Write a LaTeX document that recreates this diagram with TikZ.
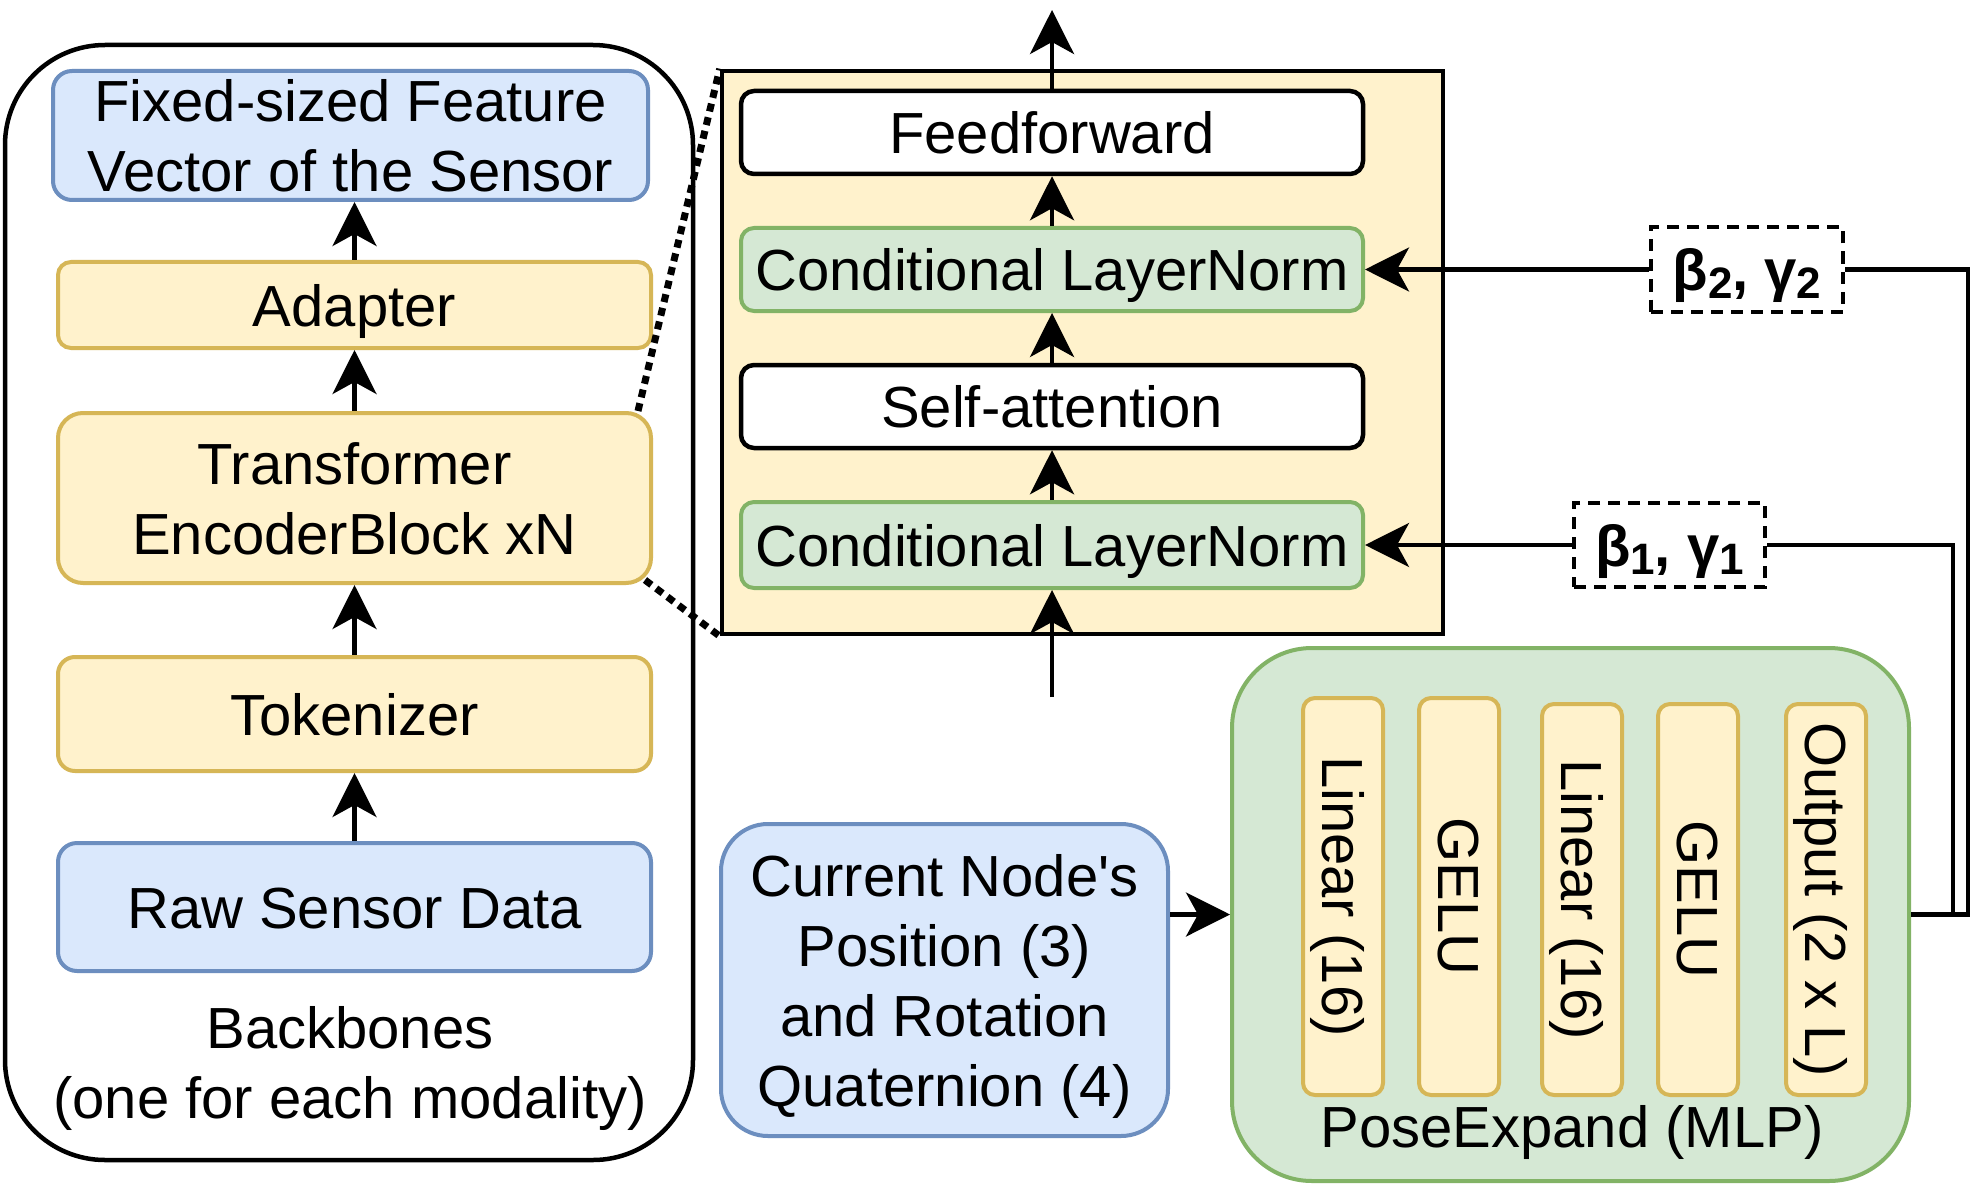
\documentclass[tikz,border=0pt]{standalone}
\usepackage{fontspec}
\setmainfont{Liberation Sans}
\usetikzlibrary{arrows.meta}
\definecolor{bfill}{HTML}{DAE8FC}
\definecolor{bdraw}{HTML}{6C8EBF}
\definecolor{yfill}{HTML}{FFF2CC}
\definecolor{ydraw}{HTML}{D6B656}
\definecolor{gfill}{HTML}{D5E8D4}
\definecolor{gdraw}{HTML}{82B366}
\newcommand\fsz{\fontsize{58}{70}\selectfont}
\newcommand\sbs[1]{\raisebox{-8pt}{\fontsize{44}{44}\selectfont #1}}
\begin{document}
\begin{tikzpicture}[x=1pt,y=-1pt,
  every node/.style={inner sep=0pt, font=\fsz, align=center, text height=42pt, text depth=0pt},
  twol/.style={text height=112pt},
  fourl/.style={text height=252pt},
  rbox/.style={draw, line width=4pt, rounded corners=#1},
  rbox/.default=13,
  bluebox/.style={rbox={#1}, fill=bfill, draw=bdraw},
  bluebox/.default=19,
  yelbox/.style={rbox={#1}, fill=yfill, draw=ydraw},
  yelbox/.default=13,
  grnbox/.style={rbox={#1}, fill=gfill, draw=gdraw},
  grnbox/.default=13,
  whtbox/.style={rbox={#1}, fill=white, draw=black, line width=4.5pt},
  whtbox/.default=13,
  dbox/.style={draw=black, fill=white, line width=4pt, dash pattern=on 12pt off 8pt, font=\fsz\bfseries},
  arr/.style={line width=4.2pt, -{Stealth[length=44pt,width=44pt,inset=12pt]}},
  ln/.style={line width=4.2pt},
  dotline/.style={line width=7pt, dash pattern=on 8pt off 6pt},
]
\useasboundingbox (0,0) rectangle (1985,1190);
\fill[white] (0,0) rectangle (1985,1190);

% Backbones
\node[draw=black, line width=4.5pt, rounded corners=100pt, minimum width=688pt, minimum height=1115pt] (bb) at (349,602.5) {};
\node[bluebox=19, twol, minimum width=595pt, minimum height=129pt] (fix) at (350.5,135.5) {Fixed-sized Feature\\Vector of the Sensor};
\node[yelbox=13, minimum width=593pt, minimum height=86pt] (ada) at (354.5,305) {Adapter};
\node[yelbox=25, twol, minimum width=593pt, minimum height=170pt] (tr) at (354.5,498) {Transformer\\EncoderBlock xN};
\node[yelbox=17, minimum width=593pt, minimum height=114pt] (tok) at (354.5,714) {Tokenizer};
\node[bluebox=19, minimum width=593pt, minimum height=128pt] (raw) at (354.5,907) {Raw Sensor Data};
\node[twol] (bblab) at (350,1062) {Backbones\\(one for each modality)};

\draw[arr] (raw) -- (tok);
\draw[arr] (tok) -- (tr);
\draw[arr] (tr) -- (ada);
\draw[arr] (ada.north) -- (ada.north |- fix.south);

% Transformer block
\node[draw=black, fill=yfill, line width=4.5pt, minimum width=721pt, minimum height=563pt] (blk) at (1082.5,352.5) {};
\node[whtbox=13, minimum width=622pt, minimum height=83pt] (ff) at (1052,132.5) {Feedforward};
\node[grnbox=13, minimum width=622pt, minimum height=83pt] (cln2) at (1052,269.5) {Conditional LayerNorm};
\node[whtbox=13, minimum width=622pt, minimum height=83pt] (sa) at (1052,406.5) {Self-attention};
\node[grnbox=13, minimum width=622pt, minimum height=86pt] (cln1) at (1052,545) {Conditional LayerNorm};
\coordinate (topout) at (1052,10);
\coordinate (inb) at (1052,697);

\draw[arr] (inb) -- (cln1);
\draw[arr] (cln1) -- (sa);
\draw[arr] (sa) -- (cln2);
\draw[arr] (cln2) -- (ff);
\draw[arr] (ff) -- (topout);

% dotted zoom lines
\draw[dotline] ([xshift=-15pt]tr.north east) -- (blk.north west);
\draw[dotline] ([xshift=-8pt,yshift=5pt]tr.south east) -- (blk.south west);

% beta/gamma boxes
\node[dbox, minimum width=192pt, minimum height=84pt] (b2) at (1747,269.5) {β\sbs{2}, γ\sbs{2}};
\node[dbox, minimum width=191pt, minimum height=84pt] (b1) at (1669.5,545) {β\sbs{1}, γ\sbs{1}};
\draw[arr] (b2) -- (cln2);
\draw[arr] (b1) -- (cln1);

% Current node input
\node[bluebox=47, fourl, minimum width=447pt, minimum height=312pt] (cur) at (944.5,980) {Current Node\textquotesingle s\\Position (3)\\and Rotation\\Quaternion (4)};

% MLP
\node[grnbox=80, minimum width=677pt, minimum height=533pt] (mlp) at (1570.5,914.5) {};
\node[yelbox=12, rotate=-90, minimum width=397pt, minimum height=80pt] (l1) at (1343,896.5) {Linear (16)};
\node[yelbox=12, rotate=-90, minimum width=397pt, minimum height=80pt] (g1) at (1459,896.5) {GELU};
\node[yelbox=12, rotate=-90, minimum width=391pt, minimum height=80pt] (l2) at (1582,899.5) {Linear (16)};
\node[yelbox=12, rotate=-90, minimum width=391pt, minimum height=80pt] (g2) at (1698,899.5) {GELU};
\node[yelbox=12, rotate=-90, minimum width=391pt, minimum height=80pt] (out) at (1826,899.5) {Output (2 x L)};
\node (pelab) at (1572,1126) {PoseExpand (MLP)};

\draw[arr] (mlp.west -| cur.east) -- (mlp.west);
\draw[ln] (mlp.east) -- ++(57,0) |- (b2.east);
\draw[ln] (mlp.east) -- ++(42,0) |- (b1.east);
\end{tikzpicture}
\end{document}
